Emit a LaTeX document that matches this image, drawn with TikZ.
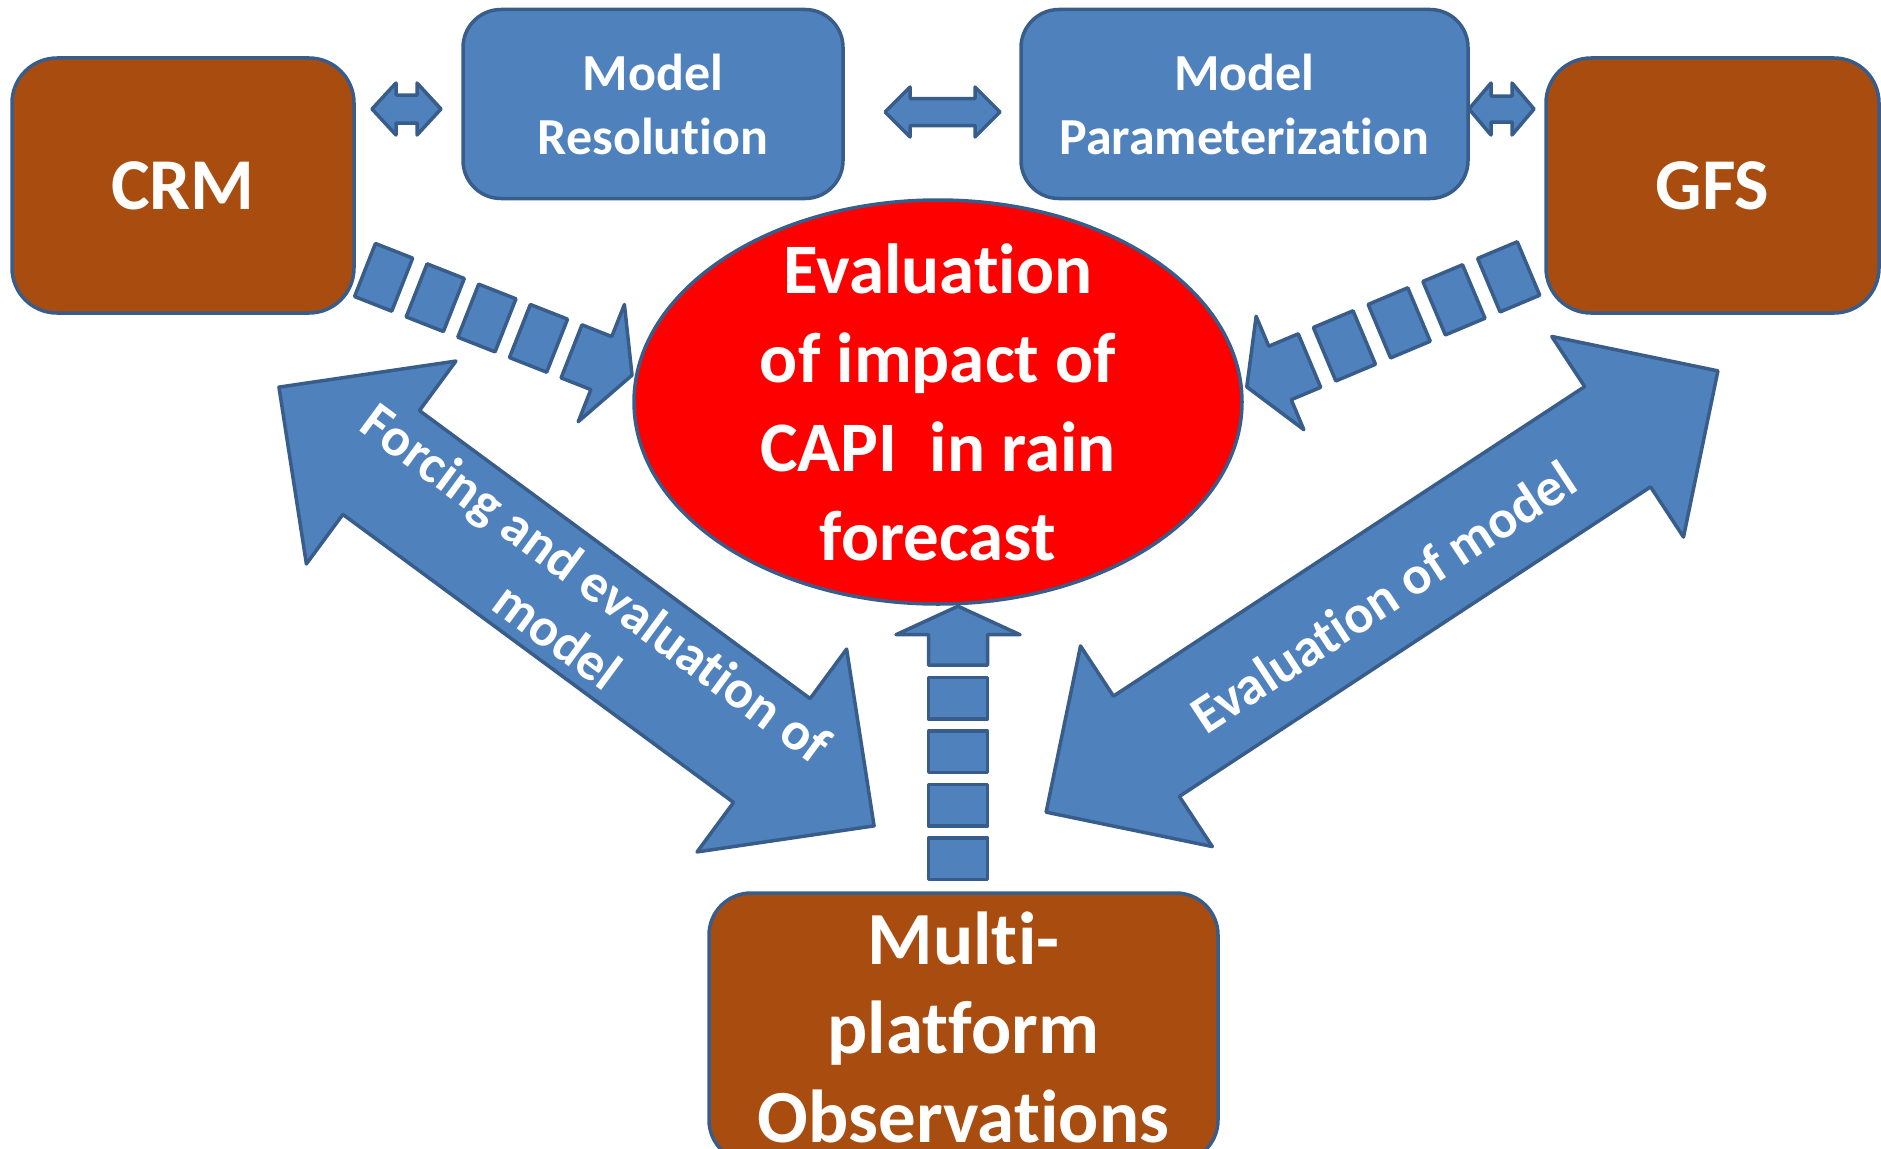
\documentclass[tikz,border=0pt]{standalone}
\usepackage{fontspec}
\setmainfont{Carlito}[RawFeature={-liga;-clig;-calt;-dlig;-rlig}]
\usetikzlibrary{shapes.geometric}

% keeps letter pairs such as t+i apart as separate glyphs
\newcommand{\nolig}{\kern0pt }

\definecolor{boxblue}{RGB}{79,129,189}
\definecolor{edgeblue}{RGB}{56,93,138}
\definecolor{rust}{RGB}{169,76,16}
\definecolor{hotred}{RGB}{255,0,0}

\tikzset{
  shapeline/.style={draw=edgeblue, line width=3.5pt, line join=round},
  blockarrow/.style={shapeline, fill=boxblue},
  modelbox/.style={shapeline, fill=rust, rounded corners=45pt, inner sep=0pt,
    minimum height=255pt, text=white, font=\bfseries\fontsize{73}{88}\selectfont},
  topbox/.style={shapeline, fill=boxblue, rounded corners=38pt, inner sep=0pt,
    minimum height=189pt, text=white, align=center,
    font=\bfseries\fontsize{52}{64}\selectfont},
  evalellipse/.style={shapeline, ellipse, fill=hotred, inner sep=0pt,
    minimum width=608pt, minimum height=404pt},
  evaltext/.style={text=white, align=center, inner sep=0pt,
    font=\bfseries\fontsize{71}{89}\selectfont},
  obsbox/.style={shapeline, fill=rust, rounded corners=42pt, inner sep=0pt,
    minimum width=509pt, minimum height=269pt, text=white, align=center,
    font=\bfseries\fontsize{75}{89}\selectfont},
  arrowtext/.style={text=white, align=center, inner sep=0pt,
    font=\bfseries\fontsize{54}{65}\selectfont}
}

% double-headed block arrow: centre x, centre y, angle, length,
% head length, head half-width, shaft half-width
\newcommand{\dblblock}[7]{%
  \begin{scope}[shift={(#1,#2)}, rotate=#3]
    \draw[blockarrow] ({-#4/2},0) -- ({-#4/2+#5},{#6}) -- ({-#4/2+#5},{#7})
      -- ({#4/2-#5},{#7}) -- ({#4/2-#5},{#6}) -- ({#4/2},0)
      -- ({#4/2-#5},{-#6}) -- ({#4/2-#5},{-#7}) -- ({-#4/2+#5},{-#7})
      -- ({-#4/2+#5},{-#6}) -- cycle;
  \end{scope}}

% striped block arrow: start x, start y, angle, stripe length, stripe pitch,
% shaft half-width, shaft length, head length, head half-width
\newcommand{\stripedarrow}[9]{%
  \begin{scope}[shift={(#1,#2)}, rotate=#3]
    \foreach \k in {0,1,2,3} {
      \draw[blockarrow] ({\k*#5},{-#6}) -- ({\k*#5+#4},{-#6})
        -- ({\k*#5+#4},{#6}) -- ({\k*#5},{#6}) -- cycle;
    }
    \draw[blockarrow] ({4*#5},{-#6}) -- ({4*#5+#7},{-#6}) -- ({4*#5+#7},{-#9})
      -- ({4*#5+#7+#8},0) -- ({4*#5+#7},{#9}) -- ({4*#5+#7},{#6})
      -- ({4*#5},{#6}) -- cycle;
  \end{scope}}

\begin{document}
\begin{tikzpicture}[x=1pt, y=-1pt]
  \useasboundingbox (0,0) rectangle (1881,1148);
  \clip (0,0) rectangle (1881,1148);

  % models and research themes
  \node[modelbox, minimum width=342pt] (crm) at (183,185.5) {CRM};
  \node[modelbox, minimum width=333pt] (gfs) at (1712.5,185.5) {GFS};
  \node[topbox, minimum width=380pt] (res) at (653,104)
    {Model\\Resolut\nolig ion};
  \node[topbox, minimum width=447pt] (par) at (1244.5,104)
    {Model\\Parameterizat\nolig ion};

  % central goal
  \node[evalellipse] (goal) at (938,402) {};
  \node[evaltext] (goaltext) at (goal.center)
    {Evaluat\nolig ion\\of impact of\\CAPI\ \ in rain\\forecast};

  % observations
  \node[obsbox] (obs) at (963.5,1027.5)
    {Mult\nolig i-\\plat\nolig form\\Observat\nolig ions};

  % links along the top row
  \dblblock{406.5}{109}{0}{69}{24}{26}{14}
  \dblblock{942.5}{112}{0}{115}{25}{25}{13.5}
  \dblblock{1501.5}{109}{0}{65}{22}{26}{13}

  % striped arrows into the goal
  \stripedarrow{365}{270}{-21.5}{40}{55.5}{28.5}{32}{33}{63}
  \stripedarrow{1528.5}{268.5}{202.8}{43}{59.4}{29}{32}{36}{61.5}
  \stripedarrow{958}{879.6}{90}{41.5}{53.6}{29.5}{30.5}{28.5}{62}

  % model--observation exchanges
  \dblblock{576.5}{606.5}{-36.4}{739.4}{127}{126}{64.5}
  \dblblock{1382}{591.5}{33.3}{803.8}{120}{120}{60}

  \node[arrowtext, rotate=-36.4] (forcing) at (577,609)
    {Forcing and evaluat\nolig ion of\\model};
  \node[arrowtext, rotate=33.3] (evalmodel) at (1383,597)
    {Evaluat\nolig ion of model};
\end{tikzpicture}
\end{document}
